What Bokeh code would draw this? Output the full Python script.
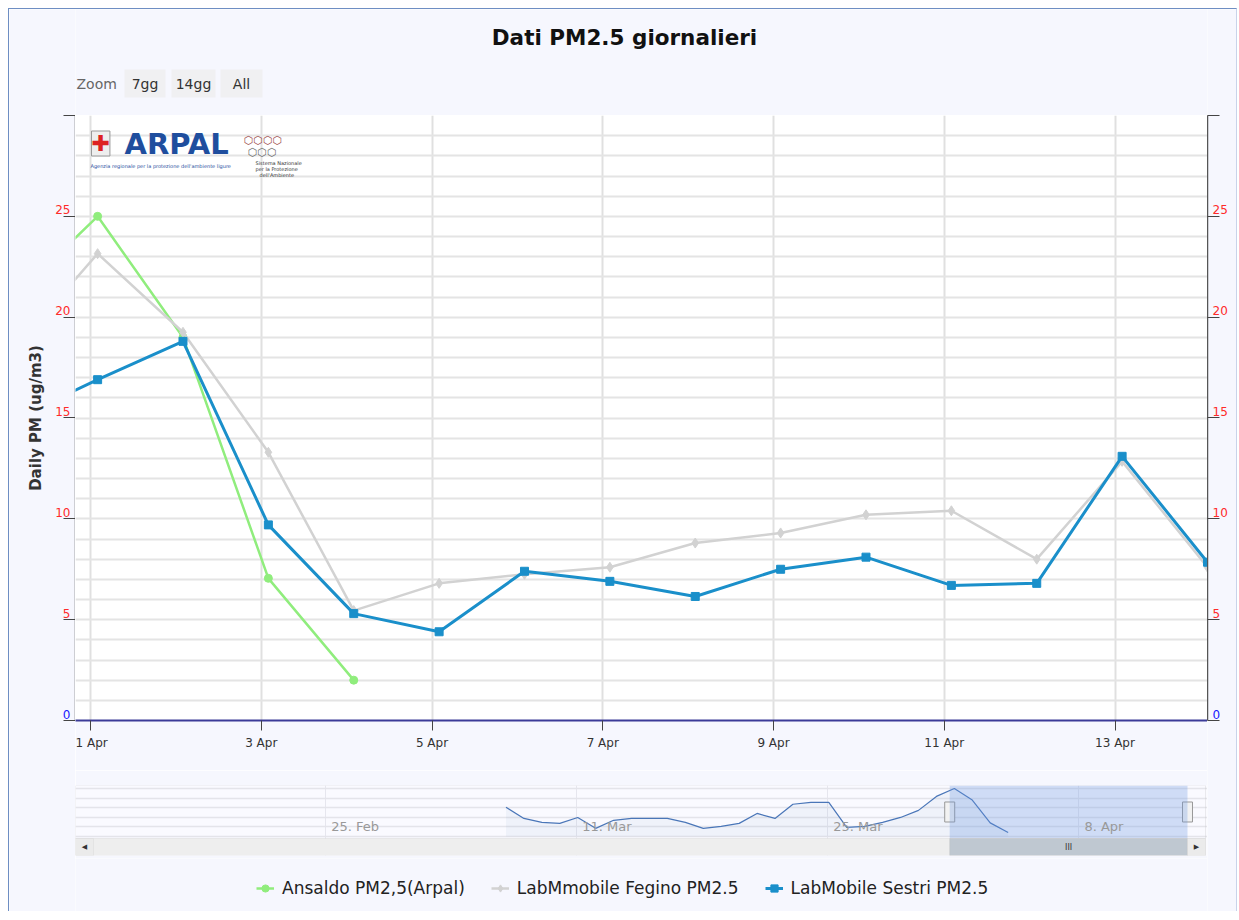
import pandas as pd
from bokeh.plotting import figure
from bokeh.models import (Range1d, FixedTicker, Grid, Label, LabelSet,
                          ColumnDataSource, BoxAnnotation, Legend, LegendItem)
from bokeh.layouts import column, row
from bokeh.core.properties import value
from bokeh.embed import file_html
from bokeh.resources import INLINE

# ---------------- data ----------------
ansaldo_start = "2019-03-07 02:00"
ansaldo_pm25 = [15.2, 9.4, 7.3, 6.8, 9.9, 4.2, 8.4, 9.4, 9.4, 9.4, 7.3, 4.2, 5.2, 6.8,
                12.0, 9.4, 16.8, 17.8, 17.8, 4.7, 5.2, 7.3, 9.9, 13.6, 20.9, 25.0,
                19.0, 7.05, 2.0]
lab_start = "2019-03-31 02:00"
fegino_pm25 = [18.3, 23.15, 19.25, 13.3, 5.45, 6.8, 7.25, 7.6, 8.8, 9.3, 10.2, 10.4,
               8.0, 12.85, 7.6]
sestri_pm25 = [14.9, 16.9, 18.8, 9.7, 5.3, 4.4, 7.4, 6.9, 6.15, 7.5, 8.1, 6.7, 6.8,
               13.1, 7.85]

series_names = ["Ansaldo PM2,5(Arpal)", "LabMmobile Fegino PM2.5", "LabMobile Sestri PM2.5"]

x_tick_dates = ["2019-04-01", "2019-04-03", "2019-04-05", "2019-04-07",
                "2019-04-09", "2019-04-11", "2019-04-13"]
x_tick_labels = ["1 Apr", "3 Apr", "5 Apr", "7 Apr", "9 Apr", "11 Apr", "13 Apr"]
y_ticks = [0, 5, 10, 15, 20, 25, 30]
y_tick_labels = ["0", "5", "10", "15", "20", "25", ""]
y_tick_colors = ["#1a1aff", "#ff2a2a", "#ff2a2a", "#ff2a2a", "#ff2a2a", "#ff2a2a", "#ff2a2a"]
y_grid_values = list(range(0, 31))
y_range_main = (0, 30)

view_start = "2019-03-31 19:47"
view_end = "2019-04-14 02:00"
nav_range = ("2019-02-11 01:55", "2019-04-15 04:46")
nav_tick_dates = ["2019-02-25", "2019-03-11", "2019-03-25", "2019-04-08"]
nav_tick_labels = ["25. Feb", "11. Mar", "25. Mar", "8. Apr"]
nav_y_grid = [0, 5, 10, 15, 20, 25]
nav_plot_y = (-1.1, 26.6)      # series part of the navigator
nav_y_range = (-9.99, 26.6)    # including the scrollbar strip
strip_y_range = (-9.471, 35.256)

zoom_buttons = ["7gg", "14gg", "All"]

# ---------------- helpers ----------------
def ms(s):
    return pd.Timestamp(s).timestamp() * 1000.0

FONT = "DejaVu Sans"
GREEN = "#90ed7d"
GREY = "#d2d2d2"
BLUE = "#1a8fca"
PAGE = "#f6f7fe"
AXIS = "#555555"

ansaldo_x = pd.date_range(ansaldo_start, periods=len(ansaldo_pm25), freq="D")
lab_x = pd.date_range(lab_start, periods=len(sestri_pm25), freq="D")
src_a = ColumnDataSource(dict(x=ansaldo_x, y=ansaldo_pm25))
src_f = ColumnDataSource(dict(x=lab_x, y=fegino_pm25))
src_s = ColumnDataSource(dict(x=lab_x, y=sestri_pm25))

def bare(**kw):
    base = dict(output_backend="svg", toolbar_location=None, x_axis_location=None,
                y_axis_location=None, min_border=0, outline_line_color=None,
                background_fill_color=PAGE, border_fill_color=PAGE)
    base.update(kw)
    f = figure(**base)
    for g in f.grid:
        g.visible = False
    return f

MAIN_W = 1132

# ---------------- header (title + zoom buttons) ----------------
head = bare(width=MAIN_W, height=106, x_range=Range1d(0, 1), y_range=Range1d(0, 1))
head.add_layout(Label(x=549, y=78, x_units="screen", y_units="screen",
                      text="Dati PM2.5 giornalieri", text_align="center",
                      text_baseline="alphabetic", text_font=FONT, text_font_style="bold",
                      text_font_size="21.5px", text_color="#111111"))
head.add_layout(Label(x=1, y=32, x_units="screen", y_units="screen", text="Zoom",
                      text_baseline="middle", text_font=FONT, text_font_size="14px",
                      text_color="#666666"))
for (l, r), t in zip([(49, 90), (96, 140), (145, 187)], zoom_buttons):
    head.add_layout(BoxAnnotation(left=l, right=r, top=46, bottom=18,
                                  left_units="screen", right_units="screen",
                                  top_units="screen", bottom_units="screen",
                                  fill_color="#f0f0f2", fill_alpha=1, line_color=None))
    head.add_layout(Label(x=(l + r) / 2, y=32, x_units="screen", y_units="screen", text=t,
                          text_align="center", text_baseline="middle", text_font=FONT,
                          text_font_size="14px", text_color="#333333"))

# ---------------- main chart ----------------
p = figure(width=MAIN_W, height=655, x_axis_type="datetime", y_axis_location=None,
           x_range=Range1d(ms(view_start), ms(view_end)), y_range=Range1d(*y_range_main),
           output_backend="svg", toolbar_location=None,
           min_border_left=0, min_border_right=0, min_border_top=0, min_border_bottom=50,
           background_fill_color="white", border_fill_color=PAGE, outline_line_color=None)

xt = [ms(d) for d in x_tick_dates]
xa = p.xaxis[0]
xa.ticker = FixedTicker(ticks=xt)
xa.major_label_overrides = {t: l for t, l in zip(xt, x_tick_labels)}
xa.axis_line_color = "#3b3b98"
xa.axis_line_width = 2
xa.major_tick_out = 10
xa.major_tick_in = 0
xa.major_tick_line_color = "#444444"
xa.minor_tick_line_color = None
xa.major_label_text_font = FONT
xa.major_label_text_font_size = "12px"
xa.major_label_text_color = "#333333"
xa.major_label_standoff = 5

p.xgrid.ticker = FixedTicker(ticks=xt)
p.xgrid.grid_line_color = "#e0e0e0"
p.xgrid.grid_line_width = 2
p.add_layout(Grid(dimension=1, ticker=FixedTicker(ticks=y_grid_values),
                  grid_line_color="#e4e4e4", grid_line_width=2))

p.line("x", "y", source=src_a, color=GREEN, line_width=2.5)
p.scatter("x", "y", source=src_a, marker="circle", size=8, color=GREEN)
p.line("x", "y", source=src_f, color=GREY, line_width=2.5)
p.scatter("x", "y", source=src_f, marker="diamond", size=10, color=GREY)
p.line("x", "y", source=src_s, color=BLUE, line_width=3)
p.scatter("x", "y", source=src_s, marker="square", size=8, color=BLUE)

# logos (as text)
p.add_layout(Label(x=16, y=577, x_units="screen", y_units="screen", text="✚",
                   text_baseline="alphabetic", text_font=FONT, text_font_size="22px",
                   text_color="#dd2222", background_fill_color="#eeeeee",
                   border_line_color="#999999"))
p.add_layout(Label(x=49, y=577, x_units="screen", y_units="screen", text="ARPAL",
                   text_baseline="alphabetic", text_font=FONT, text_font_style="bold",
                   text_font_size="29px", text_color="#1f4e9e"))
p.add_layout(Label(x=15, y=555, x_units="screen", y_units="screen",
                   text="Agenzia regionale per la protezione dell'ambiente ligure",
                   text_baseline="alphabetic", text_font=FONT, text_font_size="5px",
                   text_color="#1f4e9e"))
p.add_layout(Label(x=168, y=580, x_units="screen", y_units="screen", text="⬡⬡⬡⬡",
                   text_baseline="alphabetic", text_font=FONT, text_font_size="11px",
                   text_color="#a05050"))
p.add_layout(Label(x=172, y=568, x_units="screen", y_units="screen", text="⬡⬡⬡",
                   text_baseline="alphabetic", text_font=FONT, text_font_size="11px",
                   text_color="#707070"))
for i, t in enumerate(["Sistema Nazionale", "per la Protezione", "dell'Ambiente"]):
    p.add_layout(Label(x=180 + (4 if i == 2 else 0), y=558 - 6 * i, x_units="screen",
                       y_units="screen", text=t, text_baseline="alphabetic",
                       text_font=FONT, text_font_size="5px", text_color="#333333"))

# ---------------- side strips with y axes ----------------
lab_src = ColumnDataSource(dict(y=y_ticks, text=y_tick_labels, color=y_tick_colors))

left = bare(width=66, height=902, x_range=Range1d(0, 1),
            y_range=Range1d(*strip_y_range), y_axis_location="right")
la = left.yaxis[0]
la.ticker = FixedTicker(ticks=y_ticks)
la.major_label_overrides = {t: "" for t in y_ticks}
la.bounds = y_range_main
la.axis_line_color = AXIS
la.axis_line_width = 1.5
la.major_tick_in = 12
la.major_tick_out = 0
la.major_label_standoff = 0
la.major_tick_line_color = "#444444"
la.minor_tick_line_color = None
left.add_layout(LabelSet(x=61, y="y", x_units="screen", text="text", source=lab_src,
                         text_color="color", text_align="right", text_baseline="alphabetic",
                         y_offset=2, text_font=value(FONT), text_font_size=value("12px")))
left.add_layout(Label(x=26, y=sum(y_range_main) / 2, x_units="screen",
                      text="Daily PM (ug/m3)", angle=90, angle_units="deg",
                      text_align="center", text_baseline="middle", text_font=FONT,
                      text_font_style="bold", text_font_size="15px", text_color="#333333"))

right = bare(width=29, height=902, x_range=Range1d(0, 1),
             y_range=Range1d(*strip_y_range), y_axis_location="left")
rax = right.yaxis[0]
rax.ticker = FixedTicker(ticks=y_ticks)
rax.major_label_overrides = {t: "" for t in y_ticks}
rax.bounds = y_range_main
rax.axis_line_color = AXIS
rax.axis_line_width = 1.5
rax.major_tick_in = 12
rax.major_tick_out = 0
rax.major_label_standoff = 0
rax.major_tick_line_color = "#444444"
rax.minor_tick_line_color = None
right.add_layout(LabelSet(x=5, y="y", x_units="screen", text="text", source=lab_src,
                          text_color="color", text_align="left", text_baseline="alphabetic",
                          y_offset=2, text_font=value(FONT), text_font_size=value("12px")))

# ---------------- navigator ----------------
nav = bare(width=MAIN_W, height=88, min_border_top=15, min_border_bottom=3,
           x_range=Range1d(ms(nav_range[0]), ms(nav_range[1])),
           y_range=Range1d(*nav_y_range), background_fill_color="#fafaff")
ntx = [ms(d) for d in nav_tick_dates]
nav.add_layout(Grid(dimension=0, ticker=FixedTicker(ticks=ntx),
                    grid_line_color="#e6e6ee", grid_line_width=1))
nav.add_layout(Grid(dimension=1, ticker=FixedTicker(ticks=nav_y_grid),
                    grid_line_color="#e4e4ea", grid_line_width=1.5))

nav.varea(x="x", y1=0, y2="y", source=src_a, fill_color="#4572a7", fill_alpha=0.06)
nav.line("x", "y", source=src_a, color="#4a76b8", line_width=1.2)

def sbox(fig, l, r, t, b, **kw):
    fig.add_layout(BoxAnnotation(left=l, right=r, top=t, bottom=b,
                                 left_units="screen", right_units="screen",
                                 top_units="screen", bottom_units="screen", **kw))

sbox(nav, 0, 1130, 70, 17, fill_alpha=0, line_color="#c4c4c4", line_width=1)
nav.add_layout(BoxAnnotation(left=ms(view_start), right=ms(view_end), bottom=17,
                             bottom_units="screen",
                             fill_color="#6c99e0", fill_alpha=0.3, line_color=None))
sbox(nav, 0, 1130, 17, 0, fill_color="#eeeeee", fill_alpha=1, line_color="#dddddd")
nav.add_layout(BoxAnnotation(left=ms(view_start), right=ms(view_end), top=17, bottom=0,
                             top_units="screen", bottom_units="screen",
                             fill_color="#bfc8d1", fill_alpha=1, line_color="#b5b5b5"))
for l, r in [(0, 18), (1112, 1130)]:
    sbox(nav, l, r, 17, 0, fill_color="#ebebeb", fill_alpha=1, line_color="#cccccc")
for x, t in [(9, "◀"), (1121, "▶")]:
    nav.add_layout(Label(x=x, y=8.5, x_units="screen", y_units="screen", text=t,
                         text_align="center", text_baseline="middle", text_font=FONT,
                         text_font_size="7px", text_color="#333333"))
nav.add_layout(Label(x=(ms(view_start) + ms(view_end)) / 2, y=8.5, y_units="screen",
                     text="III", text_align="center", text_baseline="middle",
                     text_font=FONT, text_font_size="8px", text_color="#333333"))
nav.rect(x=[ms(view_start), ms(view_end)], y=[sum(nav_plot_y) / 2] * 2,
         width=10, height=20, width_units="screen", height_units="screen",
         fill_color="#f2f2f2", line_color="#999999")
nav_lab = ColumnDataSource(dict(x=ntx, text=nav_tick_labels))
nav.add_layout(LabelSet(x="x", y=29, y_units="screen", text="text", source=nav_lab,
                        x_offset=6, text_baseline="middle", text_font=value(FONT),
                        text_font_size=value("13px"), text_color="#999999"))

# ---------------- legend ----------------
# the series are drawn here too, but fall outside this strip's ranges (only the
# legend symbols show)
leg = bare(width=MAIN_W, height=53, x_range=Range1d(0, 1), y_range=Range1d(0, 1))
items = []
for name, src, col, mk, sz, lw in [(series_names[0], src_a, GREEN, "circle", 7, 2.5),
                                   (series_names[1], src_f, GREY, "diamond", 8, 2.5),
                                   (series_names[2], src_s, BLUE, "square", 7, 3)]:
    r1 = leg.line("x", "y", source=src, color=col, line_width=lw)
    r2 = leg.scatter("x", "y", source=src, marker=mk, size=sz, color=col)
    items.append(LegendItem(label=name, renderers=[r1, r2]))
leg.add_layout(Legend(items=items, orientation="horizontal", location=(181, 13),
                      label_text_font=FONT, label_text_font_size="17px",
                      label_text_color="#222222", glyph_width=18, glyph_height=18,
                      label_standoff=8, spacing=26, padding=0, margin=0,
                      background_fill_alpha=0, border_line_alpha=0))

center = column(head, p, nav, leg, spacing=0)
layout = row(left, center, right, spacing=0, margin=(8, 0, 0, 8),
             styles={"border-top": "1px solid #6e8ec3",
                     "border-left": "1px solid #6e8ec3",
                     "border-right": "1px solid #c9d3ea"})

open("out.html", "w").write(file_html(layout, INLINE))
